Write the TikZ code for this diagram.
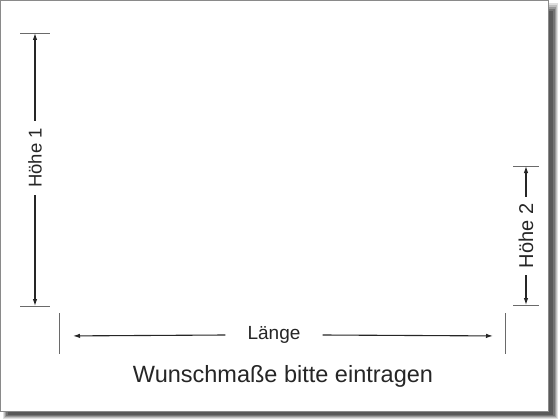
\documentclass[tikz,border=0pt]{standalone}
\usepackage{fontspec}
\setmainfont{Liberation Sans}
\usetikzlibrary{arrows.meta}
\definecolor{txt}{HTML}{262626}
\definecolor{tick}{HTML}{6A6A6A}
\definecolor{frame}{HTML}{8A8A8A}
\tikzset{
  arr/.style={draw=txt, line width=1.1pt, -{Latex[length=7pt,width=4.5pt]}},
  ticks/.style={draw=tick, line width=0.8pt},
  lab/.style={text=txt, inner sep=0pt, inner xsep=7pt, font=\fontsize{18.5}{20}\selectfont},
}
\begin{document}
\begin{tikzpicture}[x=1pt,y=-1pt]
\useasboundingbox (0,0) rectangle (560,420);
% shadow
\fill[black!12] (3,3) rectangle (558,419);
\fill[black!25] (4,5) rectangle (557,418);
\fill[black!40] (5,7) rectangle (556,417);
\fill[black!55] (6,9) rectangle (555,416);
\fill[black!65] (8,11) rectangle (553,415);
% sheet
\filldraw[fill=white, draw=frame, line width=1pt] (0.5,0.5) rectangle (548,411);
% Höhe 1
\coordinate (h1t) at (35,33);
\coordinate (h1b) at (35,306);
\coordinate (h1tl) at (20,33); \coordinate (h1tr) at (50,33);
\coordinate (h1bl) at (20,306); \coordinate (h1br) at (50,306);
\draw[ticks] (h1tl) -- (h1tr);
\draw[ticks] (h1bl) -- (h1br);
\node[lab, rotate=90] (h1) at (35,158) {Höhe 1};
\draw[arr] (h1.east) -- (h1t);
\draw[arr] (h1.west) -- (h1b);
% Höhe 2
\coordinate (h2t) at (526,166);
\coordinate (h2b) at (526,305);
\coordinate (h2tl) at (513,166); \coordinate (h2tr) at (539,166);
\coordinate (h2bl) at (513,305); \coordinate (h2br) at (539,305);
\draw[ticks] (h2tl) -- (h2tr);
\draw[ticks] (h2bl) -- (h2br);
\node[lab, rotate=90, font=\fontsize{20}{22}\selectfont] (h2) at (526,236) {Höhe 2};
\draw[arr] (h2.east) -- (h2t);
\draw[arr] (h2.west) -- (h2b);
% Länge
\coordinate (ll) at (59,336);
\coordinate (lr) at (505,336);
\coordinate (llt) at (59,313); \coordinate (llb) at (59,354);
\coordinate (lrt) at (505,313); \coordinate (lrb) at (505,354);
\draw[ticks] (llt) -- (llb);
\draw[ticks] (lrt) -- (lrb);
\node[lab, inner xsep=0pt, minimum width=97pt, font=\fontsize{19}{21}\selectfont] (len) at (274,335) {Länge};
\draw[arr, shorten >=14pt] (len.west) -- (ll);
\draw[arr, shorten >=12pt] (len.east) -- (lr);
% caption
\node[text=txt, inner sep=0pt, font=\fontsize{23.5}{25}\selectfont] (cap) at (283,376) {Wunschmaße bitte eintragen};
\end{tikzpicture}
\end{document}
